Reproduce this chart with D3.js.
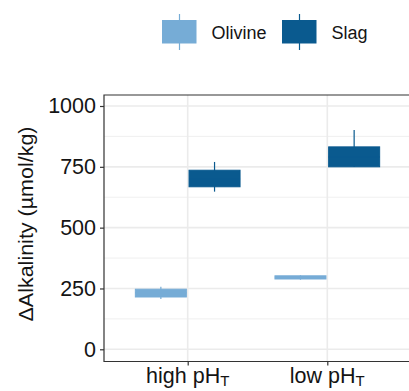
<!DOCTYPE html>
<html>
<head>
<meta charset="utf-8">
<script src="https://cdn.jsdelivr.net/npm/d3@7"></script>
<style>
  body { margin: 0; background: #fff; }
  text { font-family: "Liberation Sans", Arial, sans-serif; fill: #141414; }
</style>
</head>
<body>
<svg id="chart" width="409" height="391"></svg>
<script>
const categories = ['high', 'low'];
const groups = ['Olivine', 'Slag'];
const yTicks = [0, 250, 500, 750, 1000];

// box stats per group: [high, low] -> {lo, q1, med, q3, hi}
const olivineStats = [
  { lo: 207, q1: 215, med: 232, q3: 247, hi: 257 },
  { lo: 286, q1: 289, med: 296, q3: 302, hi: 304 }
];
const slagStats = [
  { lo: 648, q1: 668, med: 700, q3: 736, hi: 770 },
  { lo: 749, q1: 750, med: 790, q3: 832, hi: 901 }
];
const colors = { Olivine: '#76acd6', Slag: '#0a5a8f' };

const boxes = [];
categories.forEach((c, i) => {
  boxes.push({ cat: c, group: 'Olivine', ...olivineStats[i] });
  boxes.push({ cat: c, group: 'Slag', ...slagStats[i] });
});

const margin = { top: 95, left: 104, bottom: 361.5 };
const svg = d3.select('#chart');

const x = d3.scalePoint()
  .domain(categories)
  .range([187.7, 327.3]);
const step = x.step();
const xg = d3.scaleBand()
  .domain(groups)
  .range([-step * 0.375, step * 0.375])
  .paddingInner(0.05);

const y = d3.scaleLinear()
  .domain([0, 1000])
  .range([349.3, 106]);

const panelRight = 187.7 + step * 1.6;

// grid
const grid = svg.append('g');
d3.range(125, 1001, 250).forEach(v => {
  grid.append('line')
    .attr('x1', margin.left).attr('x2', panelRight)
    .attr('y1', y(v)).attr('y2', y(v))
    .attr('stroke', '#ebebeb').attr('stroke-width', 0.8);
});
yTicks.forEach(v => {
  grid.append('line')
    .attr('x1', margin.left).attr('x2', panelRight)
    .attr('y1', y(v)).attr('y2', y(v))
    .attr('stroke', '#ebebeb').attr('stroke-width', 1.6);
});
categories.forEach(c => {
  grid.append('line')
    .attr('x1', x(c)).attr('x2', x(c))
    .attr('y1', margin.top).attr('y2', margin.bottom)
    .attr('stroke', '#ebebeb').attr('stroke-width', 1.6);
});

// boxes
const bw = xg.bandwidth();
const bx = svg.append('g');
boxes.forEach(d => {
  const cx = x(d.cat) + xg(d.group) + bw / 2;
  const col = colors[d.group];
  bx.append('line')
    .attr('x1', cx).attr('x2', cx)
    .attr('y1', y(d.hi)).attr('y2', y(d.lo))
    .attr('stroke', col).attr('stroke-width', 1.2);
  bx.append('rect')
    .attr('x', cx - bw / 2).attr('width', bw)
    .attr('y', y(d.q3)).attr('height', y(d.q1) - y(d.q3))
    .attr('fill', col).attr('stroke', col).attr('stroke-width', 1);
  bx.append('line')
    .attr('x1', cx - bw / 2).attr('x2', cx + bw / 2)
    .attr('y1', y(d.med)).attr('y2', y(d.med))
    .attr('stroke', col).attr('stroke-width', 1.5);
});

// panel border (left, top, bottom)
svg.append('path')
  .attr('d', `M${panelRight},${margin.top}H${margin.left}V${margin.bottom}H${panelRight}`)
  .attr('fill', 'none').attr('stroke', '#333').attr('stroke-width', 1.2);

// y axis
const yAxis = svg.append('g')
  .attr('transform', `translate(${margin.left},0)`)
  .call(d3.axisLeft(y).tickValues(yTicks).tickSize(4).tickPadding(4).tickFormat(d3.format('d')));
yAxis.select('.domain').remove();
yAxis.selectAll('.tick line').attr('stroke', '#333').attr('stroke-width', 1.2);
yAxis.selectAll('.tick text')
  .attr('font-size', 21.5).attr('fill', '#141414')
  .style('font-family', '"Liberation Sans", Arial, sans-serif');

// x axis
const xAxis = svg.append('g')
  .attr('transform', `translate(0,${margin.bottom})`)
  .call(d3.axisBottom(x).tickSize(4).tickFormat(''));
xAxis.select('.domain').remove();
xAxis.selectAll('.tick line').attr('stroke', '#333').attr('stroke-width', 1.2);

categories.forEach(c => {
  const t = svg.append('text')
    .attr('x', x(c)).attr('y', 383)
    .attr('text-anchor', 'middle')
    .attr('font-size', 21.5);
  t.append('tspan').text(c + ' pH');
  t.append('tspan').attr('font-size', 15).attr('dy', 3).text('T');
});

// y title
svg.append('text')
  .attr('transform', `translate(33,224) rotate(-90)`)
  .attr('text-anchor', 'middle')
  .attr('font-size', 20)
  .attr('textLength', 195)
  .attr('lengthAdjust', 'spacingAndGlyphs')
  .text('\u0394Alkalinity (\u00b5mol/kg)');

// legend
const legend = svg.append('g');
const legendX = [162.5, 282.5];
groups.forEach((g, i) => {
  const lx = legendX[i];
  const col = colors[g];
  legend.append('line')
    .attr('x1', lx + 17).attr('x2', lx + 17)
    .attr('y1', 14).attr('y2', 50)
    .attr('stroke', col).attr('stroke-width', 1.2);
  legend.append('rect')
    .attr('x', lx).attr('y', 20.5).attr('width', 33.5).attr('height', 22.5)
    .attr('fill', col).attr('stroke', col).attr('stroke-width', 1);
  legend.append('text')
    .attr('x', lx + 49).attr('y', 38.5)
    .attr('font-size', 18)
    .text(g);
});
</script>
</body>
</html>
